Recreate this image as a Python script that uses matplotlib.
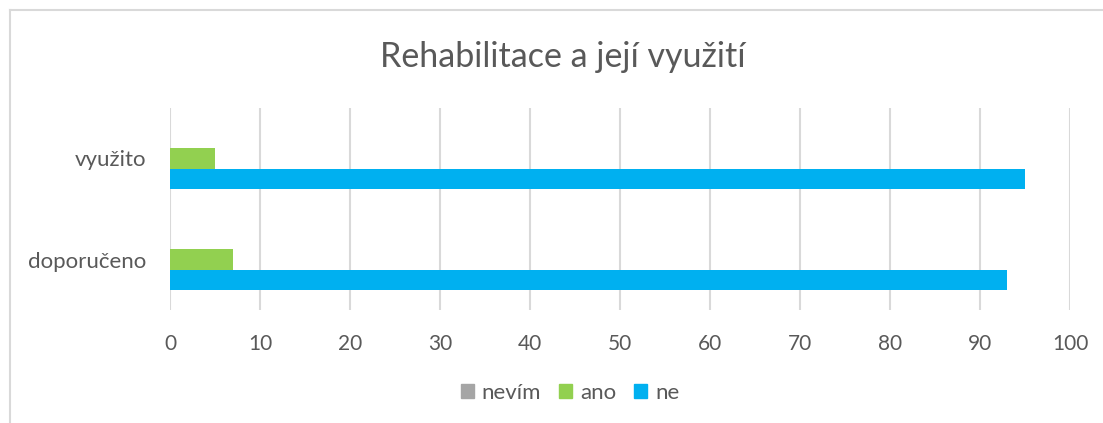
import matplotlib
matplotlib.use("Agg")
import matplotlib.pyplot as plt
from matplotlib.lines import Line2D
from matplotlib.patches import Patch
import numpy as np

categories = ["doporučeno", "využito"]
series_names = ["nevím", "ano", "ne"]
nevim = [0, 0]
ano = [7, 5]
ne = [93, 95]
x_ticks = [0, 10, 20, 30, 40, 50, 60, 70, 80, 90, 100]
title = "Rehabilitace a její využití"

colors = {"nevím": "#A5A5A5", "ano": "#92D050", "ne": "#00B0F0"}
text_color = "#595959"
font = "Lato"

W, H = 1103, 423
fig = plt.figure(figsize=(W / 100, H / 100), dpi=100)
ax = fig.add_axes([170 / W, 1 - 310 / H, 900 / W, 202 / H])

y = np.arange(len(categories))
h = 0.2
ax.barh(y + h, nevim, height=h, color=colors["nevím"], label="nevím")
ax.barh(y, ano, height=h, color=colors["ano"], label="ano")
ax.barh(y - h, ne, height=h, color=colors["ne"], label="ne")

ax.set_xlim(0, 100)
ax.set_ylim(-0.5, 1.5)
ax.set_xticks(x_ticks)
ax.set_xticklabels([str(v) for v in x_ticks], fontsize=15, color=text_color, family=font)
ax.set_yticks(y)
ax.set_yticklabels(categories, fontsize=16, color=text_color, family=font)
ax.tick_params(axis="x", length=0, pad=17)
ax.tick_params(axis="y", length=0, pad=17)
ax.grid(axis="x", color="#D9D9D9", linewidth=1.5)
ax.set_axisbelow(True)
for s in ax.spines.values():
    s.set_visible(False)

fig.text(563 / W, 1 - 57 / H, title, ha="center", va="center",
         fontsize=24.5, color=text_color, family=font)

handles = [Patch(color=colors[n]) for n in series_names]
leg = fig.legend(handles, series_names, loc="center", bbox_to_anchor=(570 / W, 1 - 393 / H),
                 ncol=3, frameon=False, handlelength=0.6, handleheight=0.6,
                 handletextpad=0.35, columnspacing=0.8,
                 prop={"family": font, "size": 16})
for t in leg.get_texts():
    t.set_color(text_color)

# chart border (top and left visible)
fig.add_artist(Line2D([10 / W, 1.0], [1 - 10 / H, 1 - 10 / H], color="#D9D9D9", linewidth=1.5,
                      transform=fig.transFigure))
fig.add_artist(Line2D([10 / W, 10 / W], [1 - 10 / H, 0], color="#D9D9D9", linewidth=1.5,
                      transform=fig.transFigure))

fig.savefig("out.png", dpi=100)
